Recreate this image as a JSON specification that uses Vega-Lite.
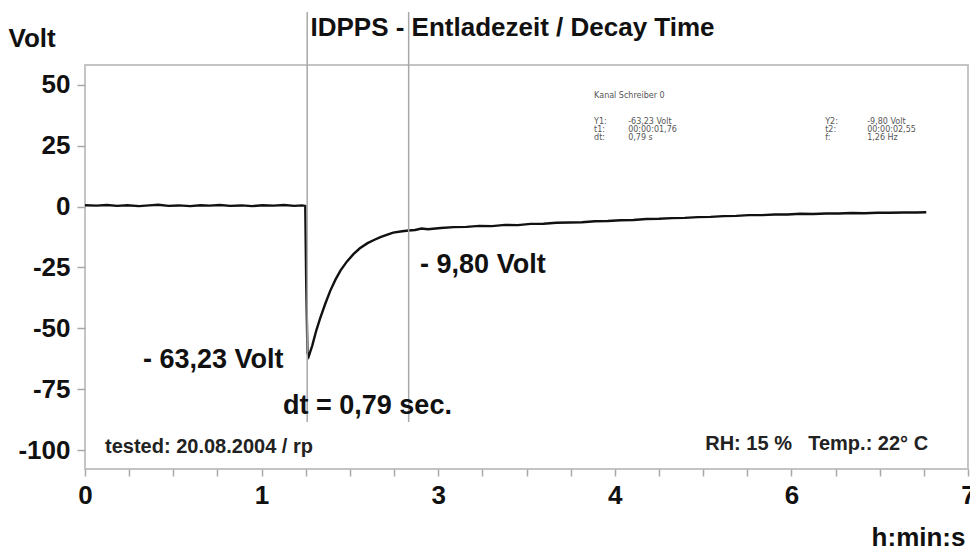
{
  "$schema": "https://vega.github.io/schema/vega-lite/v6.json",
  "width": 883,
  "height": 404,
  "autosize": {"type": "none"},
  "padding": {"left": 85, "top": 65, "right": 2, "bottom": 80},
  "background": "white",
  "config": {
    "view": {"stroke": "#c4c4c4", "strokeWidth": 2},
    "font": "Liberation Sans"
  },
  "title": {
    "text": "IDPPS - Entladezeit / Decay Time",
    "font": "Liberation Sans",
    "fontSize": 26,
    "fontWeight": "bold",
    "color": "#111",
    "anchor": "middle",
    "frame": "group",
    "dx": -14,
    "baseline": "alphabetic",
    "offset": -51
  },
  "datasets": {
    "signal": [
      {"t": 0.03, "v": 0.6}, {"t": 0.12, "v": 0.4}, {"t": 0.2, "v": 0.7}, {"t": 0.28, "v": 0.3},
      {"t": 0.36, "v": 0.6}, {"t": 0.45, "v": 0.2}, {"t": 0.53, "v": 0.5}, {"t": 0.6, "v": 0.8},
      {"t": 0.68, "v": 0.3}, {"t": 0.76, "v": 0.5}, {"t": 0.85, "v": 0.2}, {"t": 0.93, "v": 0.6},
      {"t": 1.0, "v": 0.4}, {"t": 1.08, "v": 0.7}, {"t": 1.16, "v": 0.3}, {"t": 1.25, "v": 0.5},
      {"t": 1.33, "v": 0.2}, {"t": 1.41, "v": 0.6}, {"t": 1.5, "v": 0.4}, {"t": 1.58, "v": 0.7},
      {"t": 1.66, "v": 0.3}, {"t": 1.72, "v": 0.5}, {"t": 1.745, "v": 0.3},
      {"t": 1.752, "v": -30}, {"t": 1.762, "v": -60}, {"t": 1.772, "v": -61.5},
      {"t": 1.8, "v": -57}, {"t": 1.83, "v": -51}, {"t": 1.86, "v": -46}, {"t": 1.9, "v": -40},
      {"t": 1.94, "v": -34.5}, {"t": 1.98, "v": -30}, {"t": 2.02, "v": -26.2}, {"t": 2.07, "v": -22.5},
      {"t": 2.12, "v": -19.5}, {"t": 2.17, "v": -17.1}, {"t": 2.23, "v": -15}, {"t": 2.28, "v": -13.7},
      {"t": 2.33, "v": -12.5}, {"t": 2.39, "v": -11.4}, {"t": 2.43, "v": -10.7}, {"t": 2.5, "v": -10.1},
      {"t": 2.55, "v": -9.8}, {"t": 2.6, "v": -9.6}, {"t": 2.65, "v": -9.0}, {"t": 2.7, "v": -9.3},
      {"t": 2.8, "v": -8.8}, {"t": 2.9, "v": -8.4}, {"t": 3.0, "v": -8.3}, {"t": 3.1, "v": -7.9},
      {"t": 3.2, "v": -8.0}, {"t": 3.3, "v": -7.5}, {"t": 3.4, "v": -7.6}, {"t": 3.5, "v": -7.1},
      {"t": 3.6, "v": -7.0}, {"t": 3.7, "v": -6.6}, {"t": 3.8, "v": -6.5}, {"t": 3.9, "v": -6.4},
      {"t": 4.0, "v": -6.0}, {"t": 4.1, "v": -5.9}, {"t": 4.2, "v": -5.6}, {"t": 4.3, "v": -5.5},
      {"t": 4.4, "v": -5.1}, {"t": 4.5, "v": -5.0}, {"t": 4.6, "v": -4.7}, {"t": 4.7, "v": -4.6},
      {"t": 4.8, "v": -4.3}, {"t": 4.9, "v": -4.2}, {"t": 5.0, "v": -3.9}, {"t": 5.1, "v": -3.8},
      {"t": 5.2, "v": -3.5}, {"t": 5.3, "v": -3.5}, {"t": 5.4, "v": -3.2}, {"t": 5.5, "v": -3.2},
      {"t": 5.6, "v": -2.9}, {"t": 5.7, "v": -3.0}, {"t": 5.8, "v": -2.8}, {"t": 5.9, "v": -2.8},
      {"t": 6.0, "v": -2.6}, {"t": 6.1, "v": -2.7}, {"t": 6.2, "v": -2.5}, {"t": 6.3, "v": -2.5},
      {"t": 6.4, "v": -2.4}, {"t": 6.5, "v": -2.4}, {"t": 6.58, "v": -2.3}
    ],
    "cursors": [{"t": 1.76}, {"t": 2.55}],
    "bignotes": [
      {"t": 0.482, "v": -63.0, "label": "- 63,23 Volt"},
      {"t": 2.639, "v": -24.0, "label": "- 9,80 Volt"},
      {"t": 1.572, "v": -82.0, "label": "dt = 0,79 sec."}
    ],
    "smallnotes": [
      {"t": 0.186, "v": -98.8, "label": "tested: 20.08.2004 / rp"},
      {"t": 4.859, "v": -97.6, "label": "RH: 15 %"},
      {"t": 5.661, "v": -97.6, "label": "Temp.: 22° C"}
    ],
    "info": [
      {"t": 3.994, "v": 45.5, "label": "Kanal Schreiber 0"},
      {"t": 3.994, "v": 34.8, "label": "Y1:"},
      {"t": 3.994, "v": 31.5, "label": "t1:"},
      {"t": 3.994, "v": 28.2, "label": "dt:"},
      {"t": 4.259, "v": 34.8, "label": "-63,23 Volt"},
      {"t": 4.259, "v": 31.5, "label": "00:00:01,76"},
      {"t": 4.259, "v": 28.2, "label": "0,79 s"},
      {"t": 5.793, "v": 34.8, "label": "Y2:"},
      {"t": 5.793, "v": 31.5, "label": "t2:"},
      {"t": 5.793, "v": 28.2, "label": "f:"},
      {"t": 6.12, "v": 34.8, "label": "-9,80 Volt"},
      {"t": 6.12, "v": 31.5, "label": "00:00:02,55"},
      {"t": 6.12, "v": 28.2, "label": "1,26 Hz"}
    ]
  },
  "layer": [
    {
      "data": {"name": "signal"},
      "mark": {"type": "line", "color": "#111", "strokeWidth": 2.4, "interpolate": "linear"},
      "encoding": {
        "x": {
          "field": "t",
          "type": "quantitative",
          "scale": {"domain": [0.03, 6.905], "nice": false, "zero": false},
          "axis": {
            "values": [0.03, 0.37375, 0.7175, 1.06125, 1.405, 1.74875, 2.0925, 2.43625, 2.78, 3.12375, 3.4675, 3.81125, 4.155, 4.49875, 4.8425, 5.18625, 5.53, 5.87375, 6.2175, 6.56125, 6.905],
            "labelExpr": "round((datum.value - 0.03) / 0.34375) % 4 == 0 ? format(round(datum.value), 'd') : ''",
            "grid": false,
            "domain": false,
            "tickColor": "#a8a8a8",
            "tickSize": 7,
            "tickWidth": 1.5,
            "labelFont": "Liberation Sans",
            "labelFontSize": 26,
            "labelFontWeight": "bold",
            "labelColor": "#111",
            "labelPadding": 6,
            "labelFlush": false,
            "labelOverlap": false,
            "title": "h:min:s",
            "titleFont": "Liberation Sans",
            "titleFontSize": 26,
            "titleFontWeight": "bold",
            "titleColor": "#111",
            "titleAlign": "right",
            "titleBaseline": "alphabetic",
            "titleX": 880,
            "titleY": 76
          }
        },
        "y": {
          "field": "v",
          "type": "quantitative",
          "scale": {"domain": [-107.8, 58.2], "nice": false, "zero": false},
          "axis": {
            "values": [50, 25, 0, -25, -50, -75, -100],
            "labelExpr": "(datum.value < 0 ? '-' : '') + abs(datum.value)",
            "grid": false,
            "domain": false,
            "tickColor": "#a8a8a8",
            "tickSize": 8,
            "tickWidth": 1.5,
            "labelFont": "Liberation Sans",
            "labelFontSize": 26,
            "labelFontWeight": "bold",
            "labelColor": "#111",
            "labelPadding": 7,
            "title": "Volt",
            "titleFont": "Liberation Sans",
            "titleFontSize": 26,
            "titleFontWeight": "bold",
            "titleColor": "#111",
            "titleAngle": 0,
            "titleAlign": "left",
            "titleBaseline": "alphabetic",
            "titleX": -77,
            "titleY": -19
          }
        }
      }
    },
    {
      "data": {"name": "cursors"},
      "mark": {"type": "rule", "color": "#a8a8a8", "strokeWidth": 1.5, "clip": false},
      "encoding": {
        "x": {"field": "t", "type": "quantitative"},
        "y": {"datum": -88.5, "type": "quantitative"},
        "y2": {"datum": 80}
      }
    },
    {
      "data": {"name": "bignotes"},
      "mark": {"type": "text", "font": "Liberation Sans", "fontSize": 27, "fontWeight": "bold", "color": "#111", "align": "left", "baseline": "middle"},
      "encoding": {
        "x": {"field": "t", "type": "quantitative"},
        "y": {"field": "v", "type": "quantitative"},
        "text": {"field": "label"}
      }
    },
    {
      "data": {"name": "smallnotes"},
      "mark": {"type": "text", "font": "Liberation Sans", "fontSize": 20, "fontWeight": "bold", "color": "#222", "align": "left", "baseline": "middle"},
      "encoding": {
        "x": {"field": "t", "type": "quantitative"},
        "y": {"field": "v", "type": "quantitative"},
        "text": {"field": "label"}
      }
    },
    {
      "data": {"name": "info"},
      "mark": {"type": "text", "font": "DejaVu Sans", "fontSize": 8, "color": "#555", "align": "left", "baseline": "middle"},
      "encoding": {
        "x": {"field": "t", "type": "quantitative"},
        "y": {"field": "v", "type": "quantitative"},
        "text": {"field": "label"}
      }
    }
  ]
}
